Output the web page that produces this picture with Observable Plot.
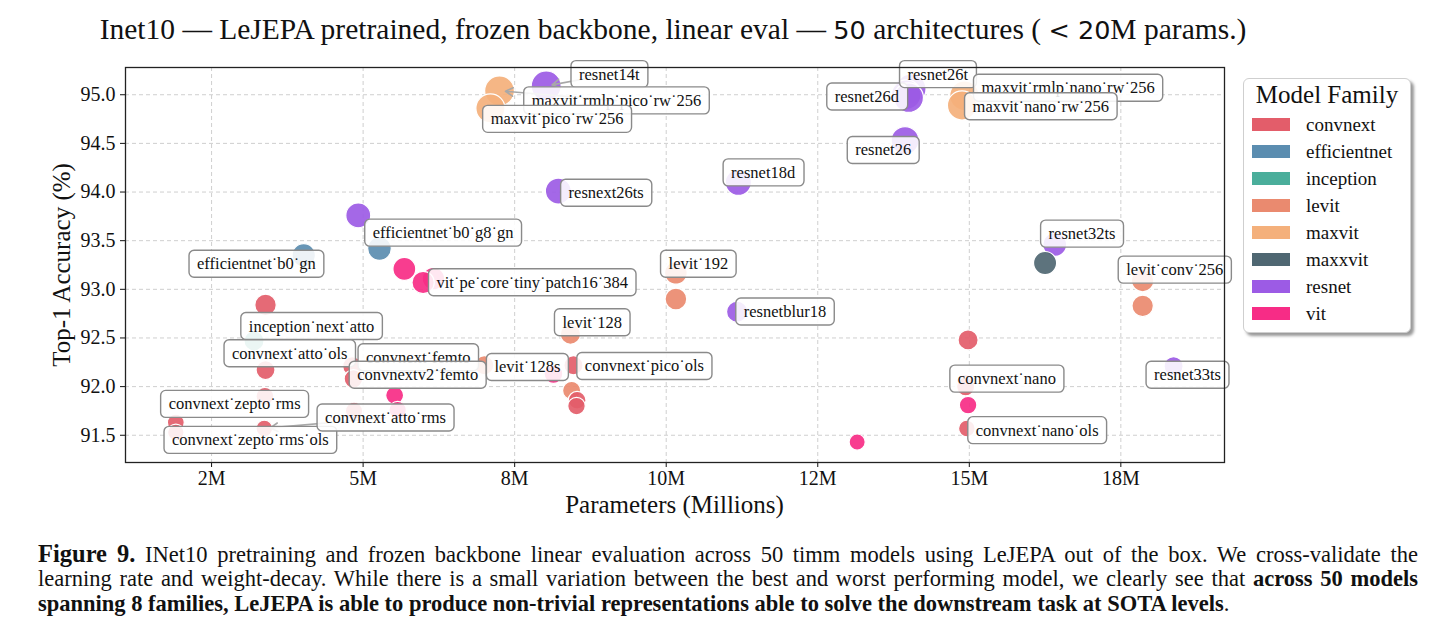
<!DOCTYPE html>
<html>
<head>
<meta charset="utf-8">
<script src="https://cdn.jsdelivr.net/npm/d3@7"></script>
<script src="https://cdn.jsdelivr.net/npm/@observablehq/plot@0.6"></script>
<style>
  body { margin: 0; background: #fff; }
  #wrap { position: relative; width: 1453px; height: 638px; overflow: hidden; font-family: "Liberation Serif", serif; color: #111; background: #fff; }
  #wrap svg { position: absolute; left: 0; top: 0; }
  .abs { position: absolute; white-space: nowrap; }
  #title { left: 0; width: 1346px; top: 12px; text-align: center; font-size: 29.5px; line-height: 34px; }
  #title .s { font-family: "DejaVu Sans", sans-serif; font-size: 25.5px; }
  #xlabel { left: 125px; width: 1099px; top: 491px; text-align: center; font-size: 25px; }
  #ylabel { left: 62px; top: 265px; font-size: 25px; transform: translate(-50%, -50%) rotate(-90deg); }
  #legend { left: 1243px; top: 78px; width: 166px; height: 253px; border: 1px solid #cfcfcf; border-radius: 6px; box-shadow: 3px 3px 3px #9a9a9a; background: #fff; }
  #legend .lt { position: absolute; left: 0; width: 166px; top: 2px; text-align: center; font-size: 25px; }
  #legend .row { position: absolute; left: 8px; height: 20px; font-size: 19px; line-height: 20px; }
  #legend .sw { position: absolute; left: 0; top: 3px; width: 38px; height: 13px; }
  #legend .tx { position: absolute; left: 54px; top: 0; }
  #caption { left: 38px; top: 541px; width: 1380px; font-size: 22.5px; }
  #caption .ln { height: 25px; line-height: 25px; text-align: justify; text-align-last: justify; white-space: nowrap; }
  #caption .ln.last { text-align-last: left; }
  #caption .fig { font-size: 24.5px; }
</style>
</head>
<body>
<div id="wrap">
  <div id="title" class="abs">Inet10 — LeJEPA pretrained, frozen backbone, linear eval — <span class="s">50</span> architectures ( <span class="s">&lt; 20</span>M params.)</div>
  <div id="xlabel" class="abs">Parameters (Millions)</div>
  <div id="ylabel" class="abs">Top-1 Accuracy (%)</div>
  <div id="legend" class="abs"></div>
  <div id="caption" class="abs">
    <div class="ln"><b class="fig">Figure 9.</b> INet10 pretraining and frozen backbone linear evaluation across 50 timm models using LeJEPA out of the box. We cross-validate the</div>
    <div class="ln">learning rate and weight-decay. While there is a small variation between the best and worst performing model, we clearly see that <b>across 50 models</b></div>
    <div class="ln last"><b>spanning 8 families, LeJEPA is able to produce non-trivial representations able to solve the downstream task at SOTA levels</b>.</div>
  </div>
</div>
<script>
// ---------------- data ----------------
const familyNames  = ["convnext", "efficientnet", "inception", "levit", "maxvit", "maxxvit", "resnet", "vit"];
const familyColors = ["#e35d6a", "#5b8db0", "#4aae9b", "#ea8a6f", "#f4b07b", "#4f6772", "#9c5be5", "#f72c86"];

const modelNames = [
  "resnet14t", "maxvit_rmlp_pico_rw_256", "maxvit_pico_rw_256", "resnet26d", "resnet26t",
  "maxvit_rmlp_nano_rw_256", "maxvit_nano_rw_256", "resnet26", "resnet18d", "resnext26ts",
  "efficientnet_b0_g8_gn", "efficientnet_b0_gn", "vit_pe_core_tiny_patch16_384", "inception_next_atto", "convnext_atto_ols",
  "convnext_femto", "convnextv2_femto", "levit_128s", "levit_128", "convnext_pico_ols",
  "levit_192", "resnetblur18", "convnext_nano", "convnext_nano_ols", "resnet32ts",
  "levit_conv_256", "resnet33ts", "convnext_zepto_rms", "convnext_zepto_rms_ols", "convnext_atto_rms",
  "", "", "", "", "", "", "", "", "", "",
  "", "", "", "", "", "", "", "", "", ""
];
const modelFamilies = [
  "resnet", "maxvit", "maxvit", "resnet", "resnet",
  "maxvit", "maxvit", "resnet", "resnet", "resnet",
  "efficientnet", "efficientnet", "vit", "inception", "convnext",
  "convnext", "convnext", "levit", "levit", "convnext",
  "levit", "resnet", "convnext", "convnext", "resnet",
  "levit", "resnet", "convnext", "convnext", "convnext",
  "resnet", "vit", "vit", "convnext", "convnext", "vit", "vit", "convnext", "levit", "convnext",
  "convnext", "vit", "levit", "vit", "convnext", "vit", "maxxvit", "levit", "resnet", "convnext"
];
const paramsM = [
  8.02, 7.25, 7.10, 13.96, 14.04,
  14.92, 14.88, 13.94, 11.19, 8.22,
  5.27, 4.02, 6.16, 3.20, 3.39,
  4.82, 4.84, 7.00, 8.42, 8.47,
  10.16, 11.17, 14.94, 14.96, 16.41,
  17.86, 18.37, 1.91, 1.91, 3.37,
  4.92, 5.68, 5.99, 3.39, 3.38, 5.52, 5.57, 4.85, 8.44, 8.53,
  8.52, 8.14, 10.16, 13.15, 14.98, 14.98, 16.25, 17.86, 14.00, 14.93
];
const top1Acc = [
  95.09, 95.04, 94.86, 95.00, 95.06,
  94.99, 94.89, 94.53, 94.10, 94.01,
  93.42, 93.35, 93.11, 92.47, 92.17,
  92.21, 92.08, 92.22, 92.54, 92.22,
  93.17, 92.77, 92.00, 91.57, 93.46,
  93.09, 92.21, 91.63, 91.53, 91.57,
  93.76, 93.21, 93.07, 92.84, 91.90, 91.91, 91.76, 91.75, 91.96, 91.86,
  91.80, 92.13, 92.90, 91.43, 92.48, 91.81, 93.27, 92.83, 94.97, 92.03
];

// label placement (data coordinates of the label box centre, as placed by the original annotation layout)
const labelFor = [
  "resnet14t", "maxvit_rmlp_pico_rw_256", "maxvit_pico_rw_256", "resnet26d", "resnet26t",
  "maxvit_rmlp_nano_rw_256", "maxvit_nano_rw_256", "resnet26", "resnet18d", "resnext26ts",
  "efficientnet_b0_g8_gn", "efficientnet_b0_gn", "vit_pe_core_tiny_patch16_384", "levit_192", "inception_next_atto",
  "convnext_atto_ols", "convnext_femto", "convnextv2_femto", "levit_128", "levit_128s",
  "convnext_pico_ols", "resnetblur18", "resnet32ts", "levit_conv_256", "resnet33ts",
  "convnext_nano", "convnext_nano_ols", "convnext_zepto_rms", "convnext_zepto_rms_ols", "convnext_atto_rms"
];
const labelX = [
  9.06, 9.18, 8.20, 13.31, 14.48,
  16.63, 16.18, 13.58, 11.60, 9.01,
  6.32, 3.24, 7.79, 10.53, 4.15,
  3.79, 5.91, 5.90, 8.78, 7.71,
  9.64, 11.96, 16.86, 18.39, 18.60,
  15.62, 16.12, 2.88, 3.14, 5.37
];
const labelY = [
  95.21, 94.94, 94.75, 94.98, 95.21,
  95.07, 94.88, 94.43, 94.20, 93.99,
  93.58, 93.26, 93.07, 93.26, 92.62,
  92.34, 92.30, 92.12, 92.66, 92.20,
  92.21, 92.77, 93.57, 93.20, 92.12,
  92.08, 91.55, 91.82, 91.45, 91.68
];
const arrowFor = ["resnet14t", "maxvit_rmlp_pico_rw_256", "convnext_atto_rms"];

const yTicks = [91.5, 92.0, 92.5, 93.0, 93.5, 94.0, 94.5, 95.0];
const xTicks = [2.5, 5, 7.5, 10, 12.5, 15, 17.5];
const xTickLabels = ["2M", "5M", "8M", "10M", "12M", "15M", "18M"];

// ---------------- build ----------------
const idx = d3.range(modelNames.length);
const lab = d3.range(labelFor.length);
const arr = arrowFor.map(n => {
  const li = labelFor.indexOf(n), pi = modelNames.indexOf(n);
  return {x1: labelX[li], y1: labelY[li], x2: paramsM[pi], y2: top1Acc[pi]};
});

const svg = Plot.plot({
  width: 1240, height: 530,
  marginLeft: 125, marginRight: 16, marginTop: 67, marginBottom: 68,
  style: {fontFamily: "Liberation Serif, serif", fontSize: "20px", background: "transparent", overflow: "visible", color: "#111"},
  x: {domain: [1.08, 19.21]},
  y: {domain: [91.22, 95.28]},
  color: {domain: familyNames, range: familyColors},
  r: {type: "linear", domain: [91.4, 95.1], range: [8, 15]},
  marks: [
    Plot.gridX(xTicks, {stroke: "#cfcfcf", strokeOpacity: 1, strokeDasharray: "4,3"}),
    Plot.gridY(yTicks, {stroke: "#cfcfcf", strokeOpacity: 1, strokeDasharray: "4,3"}),
    Plot.axisX(xTicks, {tickFormat: d => xTickLabels[xTicks.indexOf(d)], tickSize: 5, tickPadding: 3, label: null, fontSize: 20}),
    Plot.axisY(yTicks, {tickFormat: d => d.toFixed(1), tickSize: 5, tickPadding: 5, label: null, fontSize: 20}),
    Plot.dot(idx, {x: i => paramsM[i], y: i => top1Acc[i], fill: i => modelFamilies[i], r: i => top1Acc[i],
                   fillOpacity: 0.92, stroke: "white", strokeWidth: 1.2}),
    Plot.arrow(arr, {x1: "x1", y1: "y1", x2: "x2", y2: "y2", bend: 0, stroke: "#a8a8a8", strokeWidth: 1.6,
                     headLength: 8, insetEnd: 6}),
    Plot.text(lab, {x: i => labelX[i], y: i => labelY[i], text: i => labelFor[i].replaceAll("_", "\u02D9"),
                    fontFamily: "Liberation Serif, serif", fontSize: 16.5, fill: "#111",
                    textAnchor: "middle", lineAnchor: "middle"}),
    Plot.frame({stroke: "#222", strokeWidth: 1.3})
  ]
});
const wrap = document.getElementById("wrap");
wrap.insertBefore(svg, wrap.firstChild);

// rounded boxes behind labels
const g = svg.querySelector('g[aria-label="text"]');
if (g) {
  g.querySelectorAll("text").forEach(t => {
    const b = t.getBBox();
    const r = document.createElementNS("http://www.w3.org/2000/svg", "rect");
    r.setAttribute("x", b.x - 8);
    r.setAttribute("y", b.y - 4);
    r.setAttribute("width", b.width + 16);
    r.setAttribute("height", b.height + 8);
    r.setAttribute("rx", 5);
    r.setAttribute("fill", "white");
    r.setAttribute("fill-opacity", 0.88);
    r.setAttribute("stroke", "#8a8a8a");
    r.setAttribute("stroke-width", 1.4);
    const tr = t.getAttribute("transform");
    if (tr) r.setAttribute("transform", tr);
    g.insertBefore(r, t);
  });
}

// legend
const legend = document.getElementById("legend");
legend.innerHTML = '<div class="lt">Model Family</div>' + familyNames.map((f, i) =>
  `<div class="row" style="top:${36 + i * 27}px"><div class="sw" style="background:${familyColors[i]}"></div><div class="tx">${f}</div></div>`
).join("");
</script>
</body>
</html>
